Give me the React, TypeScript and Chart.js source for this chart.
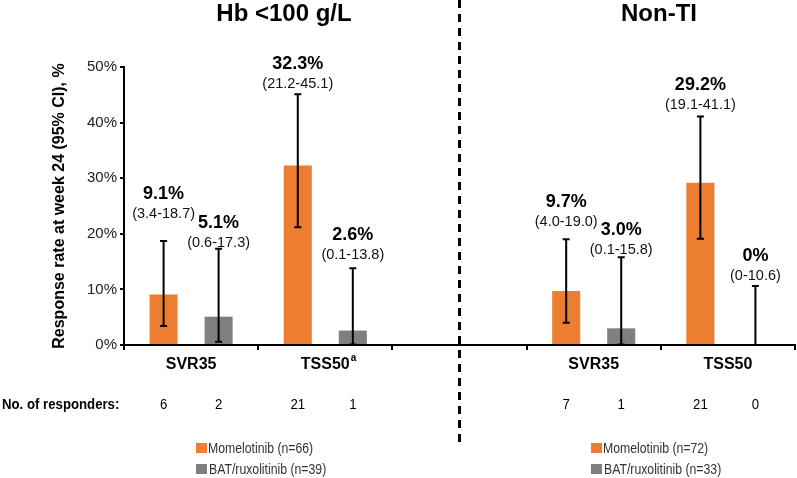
import React, { useEffect, useRef } from 'react';
import { Chart, registerables } from 'chart.js';

Chart.register(...registerables);

// ---------- data ----------
const categories = ['SVR35', 'TSS50', '', 'SVR35', 'TSS50'];
const categoryNotes = ['', 'a', '', '', ''];
const momelotinib = [9.1, 32.3, null, 9.7, 29.2];
const momLow = [3.4, 21.2, null, 4.0, 19.1];
const momHigh = [18.7, 45.1, null, 19.0, 41.1];
const bat = [5.1, 2.6, null, 3.0, 0];
const batLow = [0.6, 0.1, null, 0.1, 0];
const batHigh = [17.3, 13.8, null, 15.8, 10.6];
const momResponders = [6, 21, null, 7, 21];
const batResponders = [2, 1, null, 1, 0];
const yTicks = [0, 10, 20, 30, 40, 50];
const panelTitles = ['Hb <100 g/L', 'Non-TI'];
const legendMom = ['Momelotinib (n=66)', 'Momelotinib (n=72)'];
const legendBat = ['BAT/ruxolitinib (n=39)', 'BAT/ruxolitinib (n=33)'];
const yTitle = 'Response rate at week 24 (95% CI), %';
const respondersLabel = 'No. of responders:';

// ---------- layout / style ----------
const FONT = "'Liberation Sans', Arial, Helvetica, sans-serif";
const MOM_COLOR = '#ED7D31';
const BAT_COLOR = '#7F7F7F';
const momLabelLift = [27, 10, 0, 17, 11.5];
const batLabelLift = [6, 13, 0, 7, 10];
const titleX = [284, 659];
const legendX = [196, 591];

const fmt = (v: number) => (v === 0 ? '0' : v.toFixed(1));

function narrowText(ctx: CanvasRenderingContext2D, text: string, x: number, y: number, align: CanvasTextAlign, sx: number) {
  ctx.save();
  ctx.translate(x, y);
  ctx.scale(sx, 1);
  ctx.textAlign = align;
  ctx.fillText(text, 0, 0);
  ctx.restore();
}

const overlay = {
  id: 'overlay',
  afterDatasetsDraw(chart: any) {
    const ctx: CanvasRenderingContext2D = chart.ctx;
    const ys = chart.scales.y;
    const sets = [
      { vals: momelotinib, lo: momLow, hi: momHigh, lift: momLabelLift, resp: momResponders },
      { vals: bat, lo: batLow, hi: batHigh, lift: batLabelLift, resp: batResponders },
    ];
    ctx.save();
    sets.forEach((s, di) => {
      const meta = chart.getDatasetMeta(di);
      s.vals.forEach((v, i) => {
        if (v == null) return;
        const x = meta.data[i].x;
        const yl = ys.getPixelForValue(s.lo[i] as number);
        const yh = ys.getPixelForValue(s.hi[i] as number);
        ctx.strokeStyle = '#000';
        ctx.lineWidth = 2;
        ctx.beginPath();
        ctx.moveTo(x, yl);
        ctx.lineTo(x, yh);
        ctx.moveTo(x - 3.5, yl);
        ctx.lineTo(x + 3.5, yl);
        ctx.moveTo(x - 3.5, yh);
        ctx.lineTo(x + 3.5, yh);
        ctx.stroke();

        const ciY = yh - s.lift[i];
        ctx.fillStyle = '#000';
        ctx.textAlign = 'center';
        ctx.textBaseline = 'middle';
        ctx.font = `bold 18px ${FONT}`;
        ctx.fillText(fmt(v) + '%', x, ciY - 20);
        ctx.fillStyle = '#111';
        ctx.font = `14.5px ${FONT}`;
        ctx.fillText(`(${fmt(s.lo[i] as number)}-${fmt(s.hi[i] as number)})`, x, ciY);

        ctx.fillStyle = '#000';
        ctx.font = `15px ${FONT}`;
        narrowText(ctx, String(s.resp[i]), x, 405, 'center', 0.88);
      });
    });
    ctx.restore();
  },
  afterDraw(chart: any) {
    const ctx: CanvasRenderingContext2D = chart.ctx;
    const xs = chart.scales.x;
    ctx.save();
    // panel titles
    ctx.fillStyle = '#000';
    ctx.textAlign = 'center';
    ctx.textBaseline = 'alphabetic';
    ctx.font = `bold 24px ${FONT}`;
    panelTitles.forEach((t, i) => ctx.fillText(t, titleX[i], 21));

    // divider
    const dx = Math.round(xs.getPixelForValue(2)) - 0.5;
    ctx.strokeStyle = '#000';
    ctx.lineWidth = 3;
    ctx.setLineDash([8, 6]);
    ctx.beginPath();
    ctx.moveTo(dx, 0);
    ctx.lineTo(dx, 448);
    ctx.stroke();
    ctx.setLineDash([]);

    // superscripts on category labels
    categoryNotes.forEach((n, i) => {
      if (!n) return;
      ctx.font = `bold 16px ${FONT}`;
      const w = ctx.measureText(categories[i]).width;
      const cx = xs.getPixelForValue(i);
      ctx.font = `bold 10px ${FONT}`;
      ctx.textAlign = 'left';
      ctx.textBaseline = 'middle';
      ctx.fillText(n, cx + w / 2 + 1, xs.top + 13);
    });

    // responders label
    ctx.textBaseline = 'middle';
    ctx.font = `bold 15px ${FONT}`;
    ctx.fillStyle = '#000';
    narrowText(ctx, respondersLabel, 2, 405, 'left', 0.88);

    // legends
    legendX.forEach((lx, p) => {
      ctx.fillStyle = MOM_COLOR;
      ctx.fillRect(lx, 443, 11, 10);
      ctx.fillStyle = BAT_COLOR;
      ctx.fillRect(lx, 464, 11, 10);
      ctx.fillStyle = '#333';
      ctx.font = `14px ${FONT}`;
      narrowText(ctx, legendMom[p], lx + 12, 449, 'left', 0.875);
      narrowText(ctx, legendBat[p], lx + 13, 470, 'left', 0.875);
    });
    ctx.restore();
  },
};

export default function App() {
  const ref = useRef<HTMLCanvasElement | null>(null);
  useEffect(() => {
    if (!ref.current) return;
    const chart = new Chart(ref.current, {
      type: 'bar',
      data: {
        labels: categories,
        datasets: [
          {
            label: 'Momelotinib',
            data: momelotinib as any,
            backgroundColor: MOM_COLOR,
            categoryPercentage: 0.82,
            barPercentage: 0.51,
          },
          {
            label: 'BAT/ruxolitinib',
            data: bat as any,
            backgroundColor: BAT_COLOR,
            categoryPercentage: 0.82,
            barPercentage: 0.51,
          },
        ],
      },
      options: {
        responsive: false,
        animation: false,
        devicePixelRatio: 1,
        layout: { padding: { top: 67, right: 2, left: 0, bottom: 0 } },
        plugins: {
          legend: { display: false },
          tooltip: { enabled: false },
          title: { display: false },
        },
        scales: {
          x: {
            type: 'category',
            grid: {
              offset: true,
              drawOnChartArea: false,
              drawTicks: true,
              tickLength: 5,
              color: '#000',
              lineWidth: 2,
            },
            border: { display: true, color: '#000', width: 2 },
            ticks: {
              autoSkip: false,
              maxRotation: 0,
              padding: 5,
              color: '#000',
              font: { family: FONT, size: 16, weight: 'bold' },
            },
            afterFit: (s: any) => {
              s.height = 133;
            },
          },
          y: {
            min: 0,
            max: 50,
            afterBuildTicks: (s: any) => {
              s.ticks = yTicks.map((v) => ({ value: v }));
            },
            grid: {
              drawOnChartArea: false,
              drawTicks: true,
              tickLength: 4,
              color: '#000',
              lineWidth: 2,
            },
            border: { display: true, color: '#000', width: 2 },
            ticks: {
              padding: 3,
              color: '#222',
              font: { family: FONT, size: 15 },
              callback: (v: any) => v + '%',
            },
            title: {
              display: true,
              text: yTitle,
              color: '#000',
              font: { family: FONT, size: 16, weight: 'bold' },
              padding: { top: 50, bottom: 0 },
            },
            afterFit: (s: any) => {
              s.width = 124;
            },
          },
        },
      } as any,
      plugins: [overlay],
    });
    return () => chart.destroy();
  }, []);
  return (
    <div style={{ position: 'absolute', left: 0, top: 0, width: 797, height: 478 }}>
      <canvas ref={ref} width={797} height={478} style={{ display: 'block' }} />
    </div>
  );
}
